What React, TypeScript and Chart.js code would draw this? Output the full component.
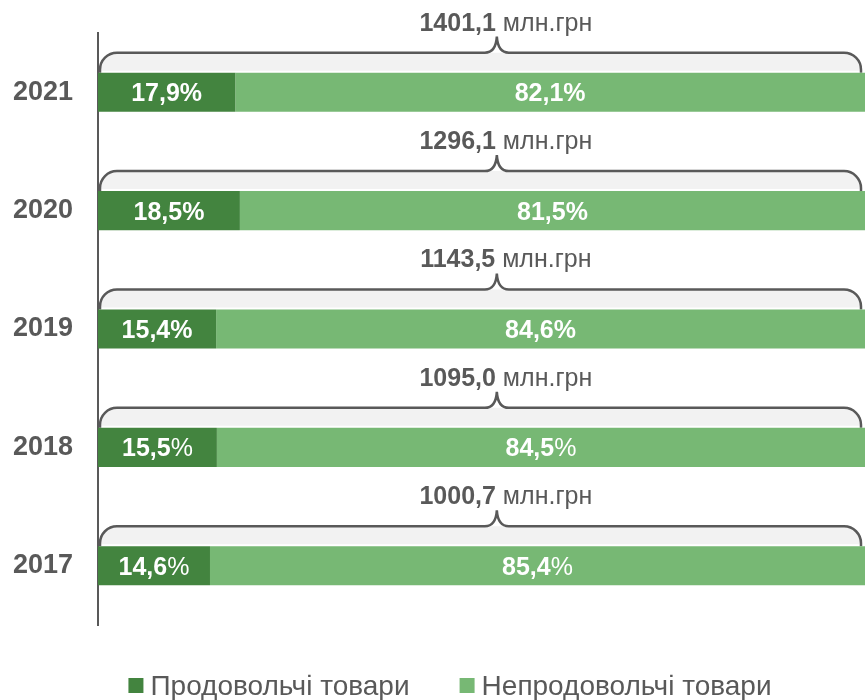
import React, { useEffect, useRef } from 'react';
import { Chart, registerables } from 'chart.js';

Chart.register(...registerables);

const years = ['2021', '2020', '2019', '2018', '2017'];
const foodShare = [17.9, 18.5, 15.4, 15.5, 14.6];
const nonFoodShare = [82.1, 81.5, 84.6, 84.5, 85.4];
const totals = [1401.1, 1296.1, 1143.5, 1095.0, 1000.7];
const percentSignBold = [true, true, true, false, false];
const seriesNames = ['Продовольчі товари', 'Непродовольчі товари'];
const unit = 'млн.грн';

const DARK = '#43843f';
const LIGHT = '#77b874';
const TEXT = '#595959';
const FONT = "'Liberation Sans', Arial, sans-serif";

const fmt = (v: number) => v.toFixed(1).replace('.', ',');

const bracePlugin = {
  id: 'braces',
  beforeDatasetsDraw(chart: any) {
    const { ctx, chartArea } = chart;
    const xScale = chart.scales.x;
    const meta = chart.getDatasetMeta(0);
    meta.data.forEach((bar: any, i: number) => {
      const { y, height } = bar.getProps(['y', 'height'], true);
      const top = y - height / 2;
      const lineY = top - 20;
      const r = 17;
      const left = chartArea.left + 2;
      const right = chartArea.right - 4;
      const tipX = xScale.getPixelForValue(52);
      const tipH = 16;
      const tipW = 12;
      ctx.save();
      // gray band
      ctx.fillStyle = '#f2f2f2';
      ctx.beginPath();
      ctx.moveTo(left, top - 2);
      ctx.arcTo(left, lineY, left + r, lineY, r);
      ctx.lineTo(right - r, lineY);
      ctx.arcTo(right, lineY, right, top - 2, r);
      ctx.lineTo(right, top - 2);
      ctx.closePath();
      ctx.fill();
      // brace
      ctx.strokeStyle = TEXT;
      ctx.lineWidth = 2.5;
      ctx.beginPath();
      ctx.moveTo(left, top);
      ctx.arcTo(left, lineY, left + r, lineY, r);
      ctx.lineTo(tipX - tipW, lineY);
      ctx.quadraticCurveTo(tipX - 1, lineY, tipX, lineY - tipH);
      ctx.quadraticCurveTo(tipX + 1, lineY, tipX + tipW, lineY);
      ctx.lineTo(right - r, lineY);
      ctx.arcTo(right, lineY, right, top, r);
      ctx.lineTo(right, top);
      ctx.stroke();
      // total text
      const num = fmt(totals[i]);
      ctx.fillStyle = TEXT;
      ctx.textBaseline = 'alphabetic';
      ctx.font = `bold 25px ${FONT}`;
      const w1 = ctx.measureText(num).width;
      ctx.font = `25px ${FONT}`;
      const rest = ' ' + unit;
      const w2 = ctx.measureText(rest).width;
      const startX = tipX + 9 - (w1 + w2) / 2;
      const baseY = lineY - 22;
      ctx.font = `bold 25px ${FONT}`;
      ctx.textAlign = 'left';
      ctx.fillText(num, startX, baseY);
      ctx.font = `25px ${FONT}`;
      ctx.fillText(rest, startX + w1, baseY);
      ctx.restore();
    });
  },
  afterDatasetsDraw(chart: any) {
    const { ctx } = chart;
    ctx.save();
    ctx.fillStyle = '#ffffff';
    ctx.textBaseline = 'alphabetic';
    ctx.textAlign = 'left';
    chart.data.datasets.forEach((ds: any, d: number) => {
      const meta = chart.getDatasetMeta(d);
      meta.data.forEach((bar: any, i: number) => {
        const { x, y, base } = bar.getProps(['x', 'y', 'base'], true);
        const cx = (x + base) / 2;
        const num = fmt(ds.data[i]);
        ctx.font = `bold 25px ${FONT}`;
        const w1 = ctx.measureText(num).width;
        const pctFont = percentSignBold[i] ? `bold 25px ${FONT}` : `25px ${FONT}`;
        ctx.font = pctFont;
        const w2 = ctx.measureText('%').width;
        const sx = cx - (w1 + w2) / 2;
        const by = y + 9;
        ctx.font = `bold 25px ${FONT}`;
        ctx.fillText(num, sx, by);
        ctx.font = pctFont;
        ctx.fillText('%', sx + w1, by);
      });
    });
    ctx.restore();
  },
  afterDraw(chart: any) {
    const { ctx } = chart;
    ctx.save();
    ctx.font = `28px ${FONT}`;
    ctx.textBaseline = 'alphabetic';
    ctx.textAlign = 'left';
    const box = 15;
    const gapText = 7;
    const gapItem = 50;
    const widths = seriesNames.map((n) => ctx.measureText(n).width);
    const total = widths.reduce((a, w) => a + box + gapText + w, 0) + gapItem * (seriesNames.length - 1);
    let x = 450 - total / 2;
    const colors = [DARK, LIGHT];
    seriesNames.forEach((n, i) => {
      ctx.fillStyle = colors[i];
      ctx.fillRect(x, 678, box, box);
      ctx.fillStyle = TEXT;
      ctx.fillText(n, x + box + gapText, 695);
      x += box + gapText + widths[i] + gapItem;
    });
    ctx.restore();
  },
};

export default function App() {
  const ref = useRef<HTMLCanvasElement>(null);
  useEffect(() => {
    if (!ref.current) return;
    const chart = new Chart(ref.current, {
      type: 'bar',
      data: {
        labels: years,
        datasets: [
          { label: seriesNames[0], data: foodShare, backgroundColor: DARK, borderWidth: 0 },
          { label: seriesNames[1], data: nonFoodShare, backgroundColor: LIGHT, borderWidth: 0 },
        ],
      },
      options: {
        indexAxis: 'y',
        responsive: false,
        animation: false,
        devicePixelRatio: 1,
        layout: { padding: { top: 33, bottom: 75, left: 0, right: 0 } },
        datasets: { bar: { categoryPercentage: 1, barPercentage: 0.33 } },
        scales: {
          x: { stacked: true, min: 0, max: 100, display: false },
          y: {
            stacked: true,
            z: 1,
            grid: { display: false, drawTicks: false },
            border: { display: true, color: TEXT, width: 2 },
            ticks: {
              padding: 25,
              color: TEXT,
              font: { family: FONT, size: 27, weight: 'bold' },
            },
            afterFit(scale: any) {
              scale.width = 98;
              scale.paddingTop = 0;
              scale.paddingBottom = 0;
            },
          },
        },
        plugins: {
          legend: { display: false },
          tooltip: { enabled: false },
        },
      },
      plugins: [bracePlugin],
    });
    return () => chart.destroy();
  }, []);
  return (
    <div style={{ position: 'absolute', left: 0, top: 0, width: 865, height: 700, background: '#fff' }}>
      <canvas ref={ref} width={865} height={700} />
    </div>
  );
}
